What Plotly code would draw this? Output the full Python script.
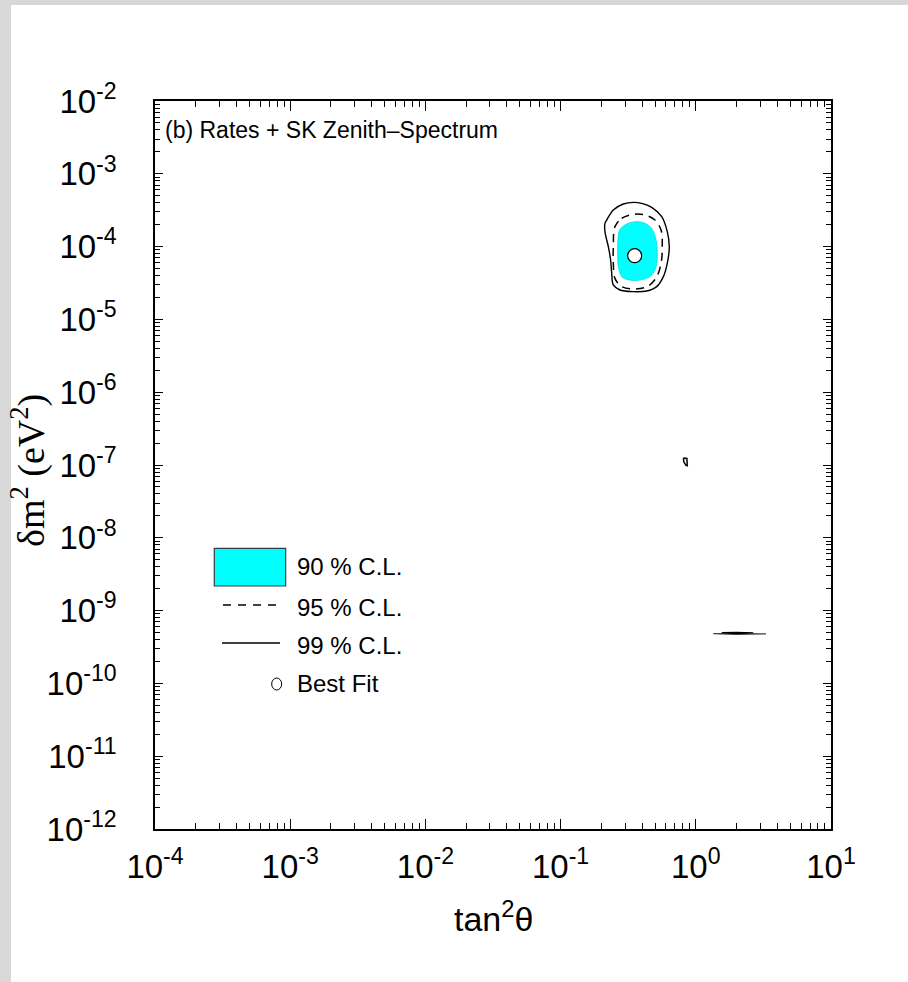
import numpy as np
import plotly.graph_objects as go

# ---- allowed regions in the (tan^2 theta, delta m^2) plane, as log10 outlines ----
cl90_log_tan2 = [-0.566, -0.524, -0.462, -0.388, -0.331, -0.297, -0.285, -0.294, -0.326,
                 -0.388, -0.474, -0.543, -0.571, -0.578, -0.575, -0.566]
cl90_log_dm2 = [-3.781, -3.703, -3.662, -3.671, -3.740, -3.886, -4.092, -4.276, -4.390,
                -4.450, -4.463, -4.422, -4.298, -4.047, -3.886, -3.781]

cl95_log_tan2 = [-0.598, -0.548, -0.462, -0.376, -0.302, -0.257, -0.248, -0.257, -0.289,
                 -0.351, -0.450, -0.548, -0.598, -0.610, -0.610, -0.598]
cl95_log_dm2 = [-3.726, -3.612, -3.557, -3.566, -3.635, -3.772, -4.001, -4.230, -4.413,
                -4.541, -4.582, -4.550, -4.436, -4.230, -4.001, -3.726]

cl99_log_tan2 = [-0.659, -0.610, -0.536, -0.462, -0.400, -0.326, -0.252, -0.211, -0.196,
                 -0.211, -0.240, -0.289, -0.363, -0.462, -0.561, -0.610, -0.622, -0.630,
                 -0.647, -0.672, -0.672, -0.659]
cl99_log_dm2 = [-3.635, -3.497, -3.415, -3.392, -3.406, -3.461, -3.589, -3.795, -4.001,
                -4.230, -4.413, -4.550, -4.610, -4.619, -4.596, -4.527, -4.367, -4.184,
                -4.001, -3.795, -3.680, -3.635]

# small 99% island near maximal mixing, LOW region
island99_log_tan2 = [-0.092, -0.066, -0.063, -0.072, -0.088, -0.092]
island99_log_dm2 = [-6.905, -6.910, -7.010, -7.005, -6.960, -6.905]

# thin VAC-like slivers at large mixing
vac99_log_tan2 = [0.130, 0.300, 0.519, 0.300, 0.130]
vac99_log_dm2 = [-9.316, -9.313, -9.319, -9.326, -9.316]
vac95_log_tan2 = [0.192, 0.300, 0.425, 0.300, 0.192]
vac95_log_dm2 = [-9.302, -9.298, -9.304, -9.318, -9.302]

best_fit_tan2 = [0.353]
best_fit_dm2 = [7.5e-5]

x_tick_exp = [-4, -3, -2, -1, 0, 1]
y_tick_exp = list(range(-12, -1))

legend_labels = ["90 % C.L.", "95 % C.L.", "99 % C.L.", "Best Fit"]


def pw(arr):
    return [10 ** v for v in arr]


fig = go.Figure()

fig.add_trace(go.Scatter(x=pw(cl90_log_tan2), y=pw(cl90_log_dm2), mode="lines",
                         fill="toself", fillcolor="#00ffff",
                         line=dict(color="#00e0e0", width=0.8, shape="spline", smoothing=1.0),
                         showlegend=False, hoverinfo="skip"))
fig.add_trace(go.Scatter(x=pw(cl95_log_tan2), y=pw(cl95_log_dm2), mode="lines",
                         line=dict(color="black", width=1.5, dash="8px,6px",
                                   shape="spline", smoothing=1.0),
                         showlegend=False, hoverinfo="skip"))
fig.add_trace(go.Scatter(x=pw(cl99_log_tan2), y=pw(cl99_log_dm2), mode="lines",
                         line=dict(color="black", width=1.4, shape="spline", smoothing=1.0),
                         showlegend=False, hoverinfo="skip"))
fig.add_trace(go.Scatter(x=pw(island99_log_tan2), y=pw(island99_log_dm2), mode="lines",
                         line=dict(color="black", width=1.5),
                         showlegend=False, hoverinfo="skip"))
fig.add_trace(go.Scatter(x=pw(vac99_log_tan2), y=pw(vac99_log_dm2), mode="lines",
                         fill="toself", fillcolor="#444444",
                         line=dict(color="#444444", width=1.2),
                         showlegend=False, hoverinfo="skip"))
fig.add_trace(go.Scatter(x=pw(vac95_log_tan2), y=pw(vac95_log_dm2), mode="lines",
                         fill="toself", fillcolor="black",
                         line=dict(color="black", width=1.2),
                         showlegend=False, hoverinfo="skip"))
fig.add_trace(go.Scatter(x=best_fit_tan2, y=best_fit_dm2, mode="markers",
                         marker=dict(symbol="circle", size=14, color="white",
                                     line=dict(color="black", width=1.2)),
                         showlegend=False, hoverinfo="skip"))


def minor_vals(exps):
    vals = []
    for e in exps[:-1]:
        for k in range(2, 10):
            vals.append(k * 10 ** e)
    return vals


tick_font = dict(family="Liberation Sans, Arial", size=33, color="black")

axis_common = dict(type="log", showgrid=False, zeroline=False, showline=True,
                   linecolor="black", linewidth=1.5, mirror="allticks",
                   ticks="inside", tickcolor="black", tickwidth=1,
                   tickfont=tick_font, tickmode="array")

fig.update_xaxes(**axis_common, range=[-4, 1],
                 tickvals=[10 ** e for e in x_tick_exp],
                 ticktext=[f"10<sup>{e}</sup>" for e in x_tick_exp],
                 ticklen=10, ticklabelstandoff=8,
                 minor=dict(tickvals=minor_vals(x_tick_exp), ticks="inside",
                            ticklen=6, tickcolor="black", tickwidth=1))
fig.update_yaxes(**axis_common, range=[-12, -2],
                 tickvals=[10 ** e for e in y_tick_exp],
                 ticktext=[f"10<sup>{e}</sup>" for e in y_tick_exp],
                 ticklen=8, ticklabelstandoff=30,
                 minor=dict(tickvals=minor_vals(y_tick_exp), ticks="inside",
                            ticklen=5, tickcolor="black", tickwidth=1))

# page: light grey frame on the left/top, white sheet
shapes = [
    dict(type="rect", xref="paper", yref="paper", x0=-0.213, x1=1.2, y0=-0.25, y1=1.1319,
         fillcolor="white", line=dict(width=0), layer="below"),
    # legend samples
    dict(type="rect", xref="paper", yref="paper", x0=0.0877, x1=0.1933, y0=0.3338, y1=0.3856,
         fillcolor="#00ffff", line=dict(color="#2f3f3f", width=1.2)),
    dict(type="line", xref="paper", yref="paper", x0=0.1006, x1=0.1849, y0=0.3077, y1=0.3077,
         line=dict(color="black", width=1.3, dash="8px,7px")),
    dict(type="line", xref="paper", yref="paper", x0=0.0991, x1=0.1849, y0=0.2555, y1=0.2555,
         line=dict(color="black", width=1.3)),
    dict(type="circle", xref="paper", yref="paper", x0=0.1726, x1=0.1874, y0=0.1909, y1=0.2074,
         fillcolor="white", line=dict(color="black", width=1)),
]

label_font = dict(family="Liberation Sans, Arial", size=24, color="black")
annotations = [
    dict(text="(b) Rates + SK Zenith\u2013Spectrum", xref="paper", yref="paper",
         x=0.0118, y=0.960, xanchor="left", yanchor="middle", showarrow=False,
         font=dict(family="Liberation Sans, Arial", size=23, color="black")),
    dict(text="tan<sup>2</sup>\u03b8", xref="paper", yref="paper", x=0.5, y=-0.120,
         xanchor="center", yanchor="middle", showarrow=False,
         font=dict(family="Liberation Sans, Arial", size=34, color="black")),
    dict(text="\u03b4m<sup>2</sup> (eV<sup>2</sup>)", xref="paper", yref="paper",
         x=-0.188, y=0.493, xanchor="center", yanchor="middle", textangle=-90,
         showarrow=False,
         font=dict(family="Liberation Serif, Times New Roman, serif", size=38, color="black")),
]
legend_y = [0.3599, 0.3049, 0.2527, 0.2005]
for lab, yy in zip(legend_labels, legend_y):
    annotations.append(dict(text=lab, xref="paper", yref="paper", x=0.2071, y=yy,
                            xanchor="left", yanchor="middle", showarrow=False,
                            font=label_font))

fig.update_layout(width=908, height=982,
                  margin=dict(l=155, r=77, t=101, b=153),
                  paper_bgcolor="#d8d8d8", plot_bgcolor="white",
                  shapes=shapes, annotations=annotations, showlegend=False)

fig.write_html("out.html")
